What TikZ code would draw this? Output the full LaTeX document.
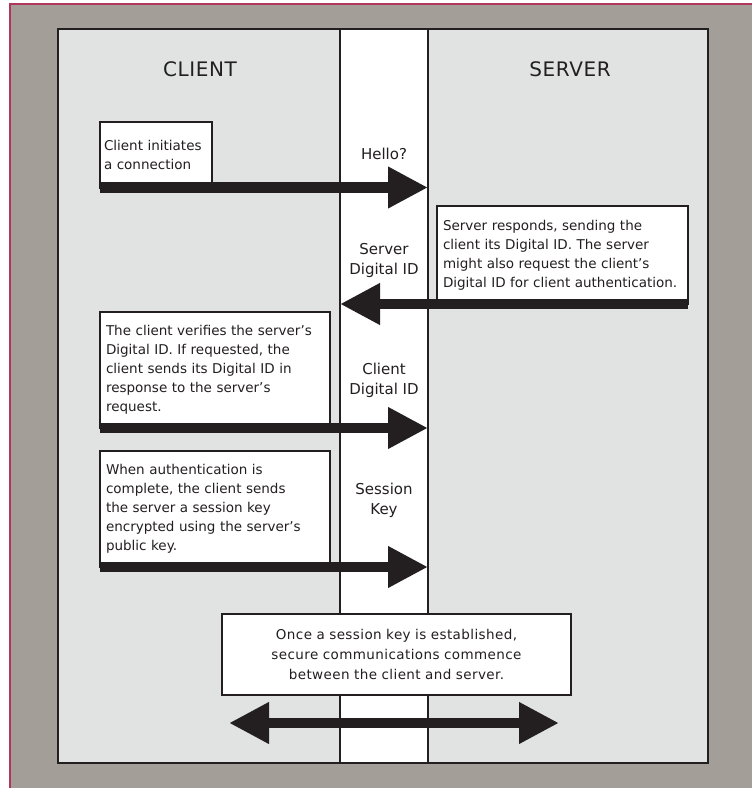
\documentclass[tikz,border=0pt]{standalone}
\usepackage{fontspec}
\setmainfont{DejaVu Sans}
\usepackage{tikz}
\usetikzlibrary{arrows.meta,positioning,calc}
\definecolor{frame}{HTML}{A39E98}
\definecolor{rim}{HTML}{B0365C}
\definecolor{pane}{HTML}{E1E3E2}
\definecolor{ink}{HTML}{231F20}

\begin{document}
\begin{tikzpicture}[x=1pt,y=1pt,
	panel/.style={draw=ink,line width=2pt,anchor=north west,inner sep=0pt,outer sep=0pt},
	note/.style={draw=ink,fill=white,line width=2pt,anchor=north west,outer sep=0pt,inner xsep=6pt,inner ysep=0pt,align=left,text=ink,font=\fontsize{13.5}{19}\selectfont},
	tag/.style={align=center,text=ink,font=\fontsize{15}{20}\selectfont},
	title/.style={text=ink,font=\fontsize{20}{24}\selectfont\addfontfeatures{LetterSpace=3}},
	fat/.style={draw=ink,line width=10.5pt,-{Triangle[length=40pt,width=39pt]}},
	fatboth/.style={draw=ink,line width=10.5pt,{Triangle[length=40pt,width=39pt]}-{Triangle[length=40pt,width=39pt]}}]
	\useasboundingbox (0,0) rectangle (752,-788);
	\fill[frame] (9,-3) rectangle (752,-788);
	\draw[rim,line width=2pt] (9.5,-788) -- (9.5,-3.5) -- (752,-3.5);
	\node[panel,fill=pane,minimum width=282pt,minimum height=734pt] (client) at (58,-29) {};
	\node[panel,fill=white,minimum width=88pt,minimum height=734pt] (wire) at (340,-29) {};
	\node[panel,fill=pane,minimum width=280pt,minimum height=734pt] (server) at (428,-29) {};
	\node[title] (clienttitle) at (200,-69) {CLIENT};
	\node[title] (servertitle) at (570,-69) {SERVER};
	\node[tag] (hellotag) at (384,-154) {Hello?};
	\node[tag] (sidtag) at (384,-260) {Server\\Digital ID};
	\node[tag] (cidtag) at (384,-380) {Client\\Digital ID};
	\node[tag] (keytag) at (384,-500) {Session\\Key};
	\node[note,inner xsep=4pt,text width=104pt,minimum height=65.5pt] (initbox) at (100,-122)
		{Client initiates\\a connection};
	\node[note,text width=239pt,minimum height=98pt] (respbox) at (437,-206)
		{Server responds, sending the\\client its Digital ID. The server\\might also request the client's\\Digital ID for client authentication.};
	\node[note,text width=218pt,minimum height=116pt] (verifybox) at (100,-312)
		{The client verifies the server's\\Digital ID. If requested, the\\client sends its Digital ID in\\response to the server's\\request.};
	\node[note,text width=218pt,minimum height=116pt] (keybox) at (100,-451)
		{When authentication is\\complete, the client sends\\the server a session key\\encrypted using the server's\\public key.};
	\node[note,text width=337pt,align=center,minimum height=81pt,font=\fontsize{13.5}{20}\selectfont\addfontfeatures{LetterSpace=3}] (securebox) at (222,-614)
		{Once a session key is established,\\secure communications commence\\between the client and server.};
	\draw[fat] (initbox.south west) -- (initbox.south west -| wire.east);
	\draw[fat] (respbox.south east) -- (respbox.south east -| wire.west);
	\draw[fat] (verifybox.south west) -- (verifybox.south west -| wire.east);
	\draw[fat] (keybox.south west) -- (keybox.south west -| wire.east);
	\coordinate (leftend) at (229,-723);
	\coordinate (rightend) at (559,-723);
	\draw[fatboth] (leftend) -- (rightend);
\end{tikzpicture}
\end{document}
